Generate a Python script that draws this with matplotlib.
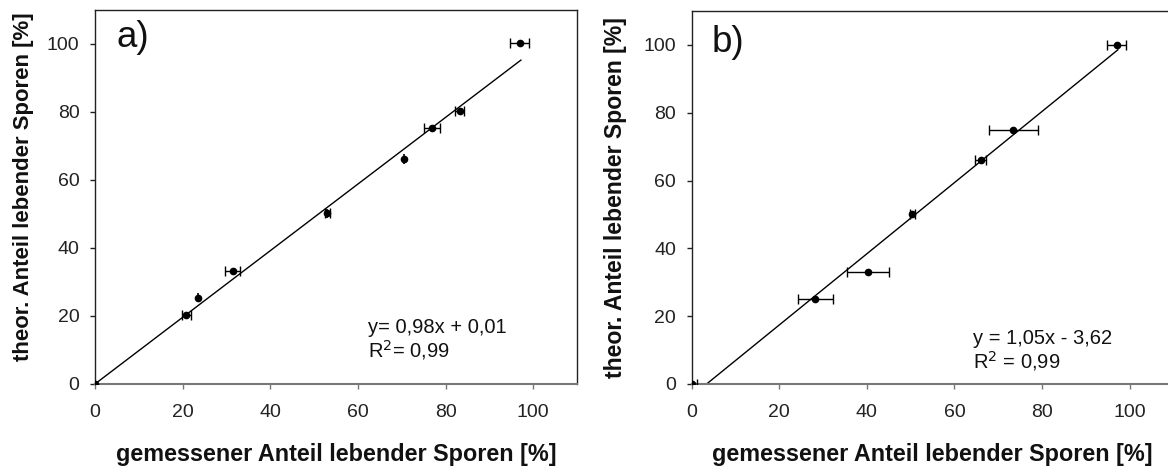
import numpy as np
import matplotlib
matplotlib.use("Agg")
import matplotlib.pyplot as plt

plt.rcParams['font.family'] = ['Liberation Sans', 'DejaVu Sans']

# Panel a data
a_x = [0, 20.8, 23.4, 31.4, 53.0, 70.5, 76.9, 83.2, 96.9]
a_y = [0, 20.3, 25.4, 33.3, 50.2, 66.2, 75.2, 80.3, 100.2]
a_xerr = [0, 1.0, 0, 1.7, 0.6, 0, 1.9, 1.0, 2.1]
a_yerr = [0, 0, 1.4, 0, 1.4, 1.4, 0, 1.0, 0]
a_fit = (0.98, 0.01)
a_text = "y= 0,98x + 0,01\nR$^{2}$= 0,99"

# Panel b data
b_x = [0, 28.2, 40.3, 50.4, 66.0, 73.4, 97.0]
b_y = [0, 25.2, 33.0, 50.0, 66.0, 75.0, 100.0]
b_xerr = [1.2, 4.0, 4.7, 0.5, 1.3, 5.6, 2.1]
b_yerr = [0, 0, 0, 1.0, 0, 0, 0]
b_fit = (1.05, -3.62)
b_text = "y = 1,05x - 3,62\nR$^{2}$ = 0,99"

ticks = [0, 20, 40, 60, 80, 100]
xlabel = "gemessener Anteil lebender Sporen [%]"
ylabel = "theor. Anteil lebender Sporen [%]"

fig = plt.figure(figsize=(11.68, 4.68), dpi=100)
W, H = 1168, 468
ax_a = fig.add_axes([95 / W, (H - 384) / H, 482 / W, 374 / H])
ax_b = fig.add_axes([691.5 / W, (H - 384) / H, 482 / W, 373 / H])


def panel(ax, x, y, xerr, yerr, fit, label, txt, txtpos, labpos, ylab_pos, ylab_size):
    x = np.asarray(x, float); y = np.asarray(y, float)
    xerr = np.asarray(xerr, float); yerr = np.asarray(yerr, float)
    mx = xerr > 0
    my = yerr > 0
    ax.errorbar(x[mx], y[mx], xerr=xerr[mx], fmt='none', ecolor='black',
                elinewidth=1.0, capsize=3.5, capthick=1.0, zorder=3)
    ax.errorbar(x[my], y[my], yerr=yerr[my], fmt='none', ecolor='black',
                elinewidth=1.2, capsize=0, zorder=3)
    ax.plot(x, y, 'o', color='black', markersize=4.5, zorder=4)
    m, c = fit
    x0 = max(0.0, -c / m)
    xs = np.array([x0, x.max() + 0.3])
    ax.plot(xs, m * xs + c, color='black', lw=1.0, zorder=2)
    ax.set_xlim(0, 110)
    ax.set_ylim(0, 110)
    ax.set_xticks(ticks)
    ax.set_yticks(ticks)
    ax.tick_params(direction='out', length=3.6, width=1, labelsize=14,
                   colors='#222222', pad=12)
    ax.tick_params(axis='x', color='#777777', pad=11)
    ax.tick_params(axis='y', pad=7.5)
    for s in ['top', 'right', 'left']:
        ax.spines[s].set_color('#222222')
        ax.spines[s].set_linewidth(1.0)
    ax.spines['bottom'].set_color('#777777')
    ax.spines['bottom'].set_linewidth(1.5)
    ax.set_xlabel(xlabel, fontsize=16.8, fontweight='bold', color='#111111')
    ax.set_ylabel(ylabel, fontsize=ylab_size, fontweight='bold', color='#111111')
    ax.xaxis.set_label_coords(0.5, -0.158)
    ax.yaxis.set_label_coords(*ylab_pos)
    ax.text(labpos[0], labpos[1], label, transform=ax.transAxes, fontsize=26.5,
            ha='left', va='baseline', color='#111111')
    ax.text(txtpos[0], txtpos[1], txt, transform=ax.transAxes, fontsize=14.5,
            ha='left', va='baseline', linespacing=1.05, color='#111111')


panel(ax_a, a_x, a_y, a_xerr, a_yerr, a_fit, "a)", a_text,
      ((368 - 95) / 482, (384 - 357) / 374), ((117 - 95) / 482, (384 - 47) / 374),
      (-0.127, 0.527), 15.9)
panel(ax_b, b_x, b_y, b_xerr, b_yerr, b_fit, "b)", b_text,
      ((973 - 691.5) / 482, (384 - 368) / 373), ((712 - 691.5) / 482, (384 - 52) / 373),
      (-0.133, 0.5), 16.6)

fig.savefig("out.png", dpi=100)
